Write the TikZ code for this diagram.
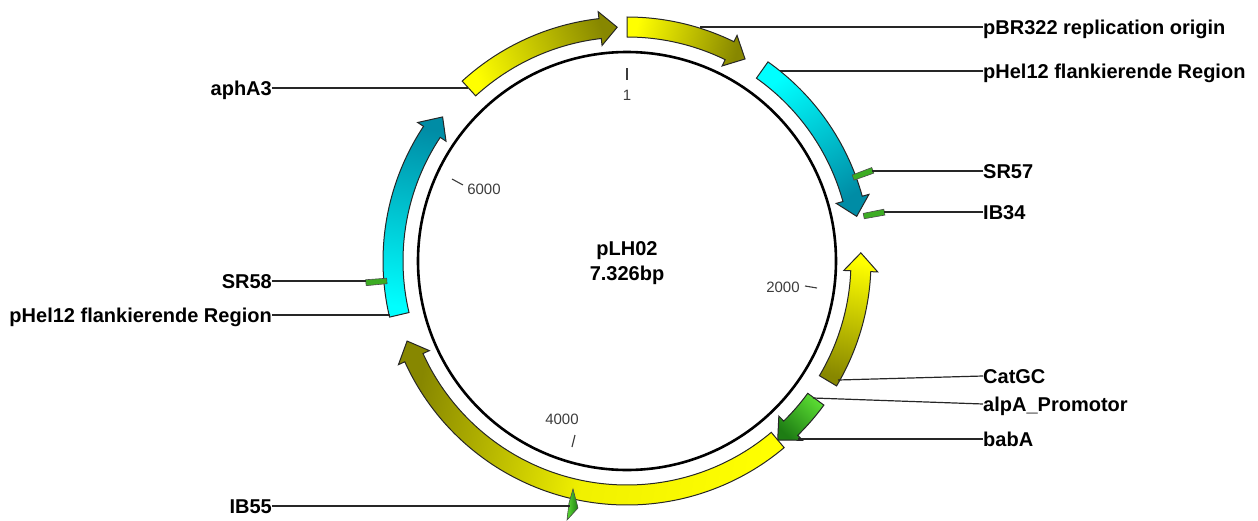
\documentclass[tikz,border=0pt]{standalone}
\usepackage{fontspec}
\setmainfont{Liberation Sans}
\usetikzlibrary{calc}
\definecolor{darkolive}{RGB}{135,135,0}
\definecolor{darkteal}{RGB}{0,140,165}
\definecolor{plasmidgreen}{RGB}{90,220,50}
\definecolor{darkgreen}{RGB}{30,125,20}
\definecolor{tickgray}{RGB}{60,60,60}

% band of radius 224 to 244, head from 217 to 251, tip at 234
\newcommand{\featarrow}[4]{%
  \draw[feature,#4] (#1:244) arc[start angle=#1,end angle=#2,radius=244] -- (#2:251) -- (#3:234)
    -- (#2:217) -- (#2:224) arc[start angle=#2,end angle=#1,radius=224] -- cycle;}
\newcommand{\primerbox}[2]{%
  \draw[primer] (#1-1.2:241) -- (#1-1.2:262) -- (#1+0.1:262) -- (#1+0.1:241) -- cycle;
  \coordinate (#2) at (#1:262);}

\begin{document}
\begin{tikzpicture}[
  x=1pt, y=1pt,
  feature/.style={draw=black!85, line width=1pt, line join=miter},
  yellowfade/.style={bottom color=darkolive, top color=yellow, shading angle=#1},
  cyanfade/.style={bottom color=darkteal, top color=cyan, shading angle=#1},
  greenfade/.style={bottom color=darkgreen, top color=plasmidgreen, shading angle=#1},
  primer/.style={draw=black!70, line width=0.6pt, fill=plasmidgreen!50!darkgreen},
  lab/.style={font=\fontsize{20}{25}\selectfont\bfseries, inner sep=0pt, text=black},
  rightlab/.style={lab, anchor=west, text height=14pt, text depth=0pt},
  leftlab/.style={lab, anchor=east, text height=14pt, text depth=0pt},
  conn/.style={draw=black!85, line width=1.2pt},
  tick/.style={draw=tickgray, line width=1.1pt},
  ticklab/.style={font=\fontsize{15}{16}\selectfont, inner sep=0pt, text=tickgray},
]
% origin is the centre of the plasmid circle
\useasboundingbox (-627,-259) rectangle (631,261);

\node[lab, align=center] (plasmid) at (0,-2) {pLH02\\7.326bp};

\featarrow{132.5}{96.6}{92.4}{yellowfade=112}
\featarrow{90}{64}{59.7}{yellowfade=75}
\featarrow{54.7}{15.4}{11}{cyanfade=33}
\featarrow{-30.8}{-2.5}{2}{yellowfade=-14}
\featarrow{-36.2}{-45.6}{-49.9}{greenfade=-43}
\featarrow{-49.9}{-155.6}{-160}{yellowfade=-100, middle color=yellow!88!darkolive}
\featarrow{193.3}{146.5}{142}{cyanfade=170}

\draw[black, line width=2.6pt] (0,0) circle[radius=209];

\primerbox{20.8}{sr57end}
\primerbox{11.3}{ib34end}
\primerbox{185.3}{sr58end}
\draw[primer, left color=plasmidgreen, right color=darkgreen] (-54,-228) -- (-49,-247) -- (-60,-259) -- (-58,-242) -- cycle;

\node[rightlab] (pbr) at (356,234) {pBR322 replication origin};
\node[rightlab] (helright) at (356,190) {pHel12 flankierende Region};
\node[rightlab] (sr57) at (356,90) {SR57};
\node[rightlab] (ib34) at (356,49) {IB34};
\node[rightlab] (catgc) at (356,-115) {CatGC};
\node[rightlab] (alpa) at (356,-143) {alpA\_Promotor};
\node[rightlab] (baba) at (356,-178) {babA};
\node[leftlab] (apha) at (-355,173) {aphA3};
\node[leftlab] (sr58) at (-355,-20) {SR58};
\node[leftlab] (helleft) at (-355,-54) {pHel12 flankierende Region};
\node[leftlab] (ib55) at (-355,-245) {IB55};

\coordinate (pbrend) at (73,234);
\coordinate (helrightend) at (153,190);
\coordinate (catgcend) at (211,-119);
\coordinate (alpaend) at (186,-137);
\coordinate (babaend) at (171,-178);
\coordinate (aphaend) at (-159,173);
\coordinate (helleftend) at (-237,-54);
\coordinate (ib55end) at (-57,-245);

\draw[conn] (pbr.west) -- (pbrend);
\draw[conn] (helright.west) -- (helrightend);
\draw[conn] (sr57.west) -- (sr57 -| sr57end);
\draw[conn] (ib34.west) -- (ib34 -| ib34end);
\draw[conn] (catgc.west) -- (catgcend);
\draw[conn] (alpa.west) -- (alpaend);
\draw[conn] (baba.west) -- (babaend);
\draw[conn] (apha.east) -- (aphaend);
\draw[conn] (sr58.east) -- (sr58 -| sr58end);
\draw[conn] (helleft.east) -- (helleftend);
\draw[conn] (ib55.east) -- (ib55end);

% position marks
\draw[tick] (90:193) -- (90:181);
\node[ticklab] (pos1) at (0,166) {1};
\draw[tick] (-175,82) -- (-164,76);
\node[ticklab] (pos6000) at (-143,72) {6000};
\draw[tick] (178,-25) -- (190,-27);
\node[ticklab] (pos2000) at (156,-26) {2000};
\draw[tick] (-55,-186) -- (-52,-174);
\node[ticklab] (pos4000) at (-65,-158) {4000};
\end{tikzpicture}
\end{document}
